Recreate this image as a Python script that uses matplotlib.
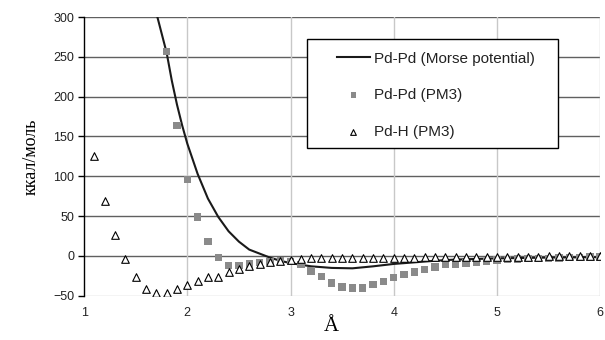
import matplotlib
matplotlib.use("Agg")
import matplotlib.pyplot as plt
from matplotlib.patches import Rectangle

# Morse potential curve
morse_x = [1.70, 1.75, 1.80, 1.85, 1.90, 1.95, 2.00, 2.10, 2.20, 2.30, 2.40, 2.50,
           2.60, 2.70, 2.80, 2.90, 3.00, 3.20, 3.40, 3.60, 3.80, 4.00, 4.20, 4.40,
           4.60, 5.00, 5.50, 6.00]
morse_y = [305, 280, 255, 220, 190, 164, 141, 103, 72, 49, 31, 18,
           8, 3, -2, -6, -9, -13, -15, -15.5, -13, -10, -8, -6,
           -4.5, -3, -2, -1.5]

# Pd-Pd PM3 (squares)
pdpd_x = [1.8, 1.9, 2.0, 2.1, 2.2, 2.3, 2.4, 2.5, 2.6, 2.7, 2.8, 2.9, 3.0,
          3.1, 3.2, 3.3, 3.4, 3.5, 3.6, 3.7, 3.8, 3.9, 4.0, 4.1, 4.2, 4.3,
          4.4, 4.5, 4.6, 4.7, 4.8, 4.9, 5.0, 5.1, 5.2, 5.3, 5.4, 5.5, 5.6,
          5.7, 5.8, 5.9, 6.0]
pdpd_y = [257, 164, 96, 49, 18, -2, -12, -12, -10, -8, -7, -6, -7,
          -11, -19, -26, -34, -39, -40, -40, -36, -32, -27, -23, -20, -17,
          -14, -11, -10, -9, -8, -7, -5, -4.5, -4, -3.5, -3, -3, -2.5,
          -2, -2, -1.5, -1.5]

# Pd-H PM3 (triangles)
pdh_x = [1.1, 1.2, 1.3, 1.4, 1.5, 1.6, 1.7, 1.8, 1.9, 2.0, 2.1, 2.2, 2.3,
         2.4, 2.5, 2.6, 2.7, 2.8, 2.9, 3.0, 3.1, 3.2, 3.3, 3.4, 3.5, 3.6,
         3.7, 3.8, 3.9, 4.0, 4.1, 4.2, 4.3, 4.4, 4.5, 4.6, 4.7, 4.8, 4.9,
         5.0, 5.1, 5.2, 5.3, 5.4, 5.5, 5.6, 5.7, 5.8, 5.9, 6.0]
pdh_y = [126, 69, 26, -4, -27, -41, -46, -46, -41, -37, -32, -27, -26,
         -20, -16, -12, -10, -8, -6, -5, -4, -3, -3, -3, -3, -2.5,
         -2.5, -2.5, -2, -2, -2, -2, -1.5, -1.5, -1.5, -1.5, -1, -1, -1,
         -1, -1, -1, -1, -1, -0.5, -0.5, -0.5, -0.5, -0.5, -0.5]

xticks = [1, 2, 3, 4, 5, 6]
yticks = [-50, 0, 50, 100, 150, 200, 250, 300]

plt.rcParams['font.family'] = ['Liberation Sans', 'DejaVu Sans']

fig = plt.figure(figsize=(6.05, 3.4), dpi=100)
ax = fig.add_axes([0.139, 0.130, 0.853, 0.820])

ax.set_xlim(1, 6)
ax.set_ylim(-50, 300)
ax.set_xticks(xticks)
ax.set_yticks(yticks)

for y in yticks:
    if y == -50:
        continue
    ax.axhline(y, color='#606060', lw=1.0, zorder=1)
for x in xticks[1:]:
    ax.axvline(x, color='#c8c8c8', lw=1.0, zorder=1)
ax.axhline(-50, color='#c8c8c8', lw=1.0, zorder=1)

for s in ['top', 'right', 'bottom']:
    ax.spines[s].set_visible(False)
ax.spines['left'].set_color('black')
ax.spines['left'].set_linewidth(1.0)
ax.spines['left'].set_zorder(3)

ax.tick_params(axis='y', direction='out', length=4, width=1, labelsize=9, pad=3,
               labelcolor='#222222')
ax.tick_params(axis='x', length=0, labelsize=9, pad=8, labelcolor='#222222')

ax.plot(morse_x, morse_y, color='#1a1a1a', lw=1.5, zorder=3,
        label='Pd-Pd (Morse potential)')
ax.scatter(pdpd_x, pdpd_y, marker='s', s=28, color='#8a8a8a', edgecolors='none',
           zorder=4, label='Pd-Pd (PM3)')
ax.scatter(pdh_x, pdh_y, marker='^', s=30, facecolors='white', edgecolors='black',
           linewidths=0.8, zorder=5, label='Pd-H (PM3)')

# legend frame drawn separately
box = Rectangle((0.432, 0.530), 0.486, 0.391, transform=ax.transAxes,
                facecolor='white', edgecolor='black', lw=1.0, zorder=9)
ax.add_patch(box)

leg = ax.legend(loc='upper left', bbox_to_anchor=(0.490, 0.876), frameon=False,
                fontsize=11, handlelength=2.15, labelspacing=1.48, borderpad=0,
                handletextpad=0.25, borderaxespad=0, markerscale=0.75)
for t in leg.get_texts():
    t.set_color('#222222')
leg.set_zorder(10)

ax.set_ylabel('ккал/моль', family='Liberation Serif', fontsize=13, labelpad=10)
ax.set_xlabel('Å', family='Liberation Serif', fontsize=15, labelpad=0)
ax.xaxis.set_label_coords(0.479, -0.075)

fig.savefig('out.png', dpi=100)
